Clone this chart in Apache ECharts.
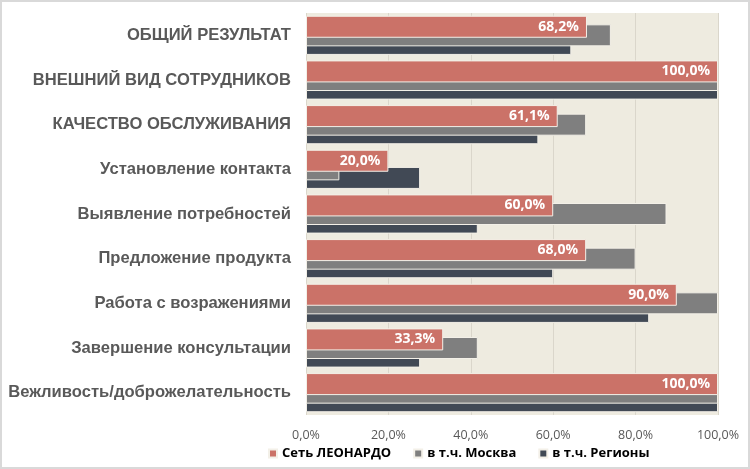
<!DOCTYPE html>
<html>
<head>
<meta charset="utf-8">
<script src="https://cdn.jsdelivr.net/npm/echarts@6/dist/echarts.min.js"></script>
<style>
html,body{margin:0;padding:0;background:#fff;}
#c{width:750px;height:469px;box-sizing:border-box;border:2px solid #d9d9d9;}
</style>
</head>
<body>
<div id="c"></div>
<script>
const categories = [
  'ОБЩИЙ РЕЗУЛЬТАТ',
  'ВНЕШНИЙ ВИД СОТРУДНИКОВ',
  'КАЧЕСТВО ОБСЛУЖИВАНИЯ',
  'Установление контакта',
  'Выявление потребностей',
  'Предложение продукта',
  'Работа с возражениями',
  'Завершение консультации',
  'Вежливость/доброжелательность'
];
const seriesNames = ['Сеть ЛЕОНАРДО', 'в т.ч. Москва', 'в т.ч. Регионы'];
const network = [68.2, 100, 61.1, 20.0, 60.0, 68.0, 90.0, 33.3, 100];
const moscow  = [74.0, 100, 68.0, 8.1, 87.5, 80.0, 100, 41.7, 100];
const regions = [64.4, 100, 56.4, 27.7, 41.7, 60.0, 83.3, 27.7, 100];
const xTicks = [0, 20, 40, 60, 80, 100];

const chart = echarts.init(document.getElementById('c'), null, {renderer:'canvas'});
const fmt = v => v.toFixed(1).replace('.', ',') + '%';

chart.setOption({
  animation:false,
  backgroundColor:'#fff',
  grid:{left:304, right:30, top:11, bottom:52, show:true, backgroundColor:'#EEEBE0', borderWidth:0,
        containLabel:false, outerBoundsMode:'none'},
  legend:{
    top:445, left:266, padding:0, itemWidth:8, itemHeight:8, itemGap:22,
    icon:'rect',
    textStyle:{fontFamily:'Open Sans, Liberation Sans, sans-serif', fontWeight:'bold', fontSize:13, color:'#000'},
    data:seriesNames
  },
  xAxis:{
    type:'value', min:xTicks[0], max:xTicks[xTicks.length-1], interval:xTicks[1]-xTicks[0],
    axisLine:{show:false}, axisTick:{show:false},
    splitLine:{lineStyle:{color:'#DAD6CB', width:1}},
    axisLabel:{formatter:v=>fmt(v), color:'#595959', fontSize:12.5, margin:14,
      fontFamily:'Open Sans, Liberation Sans, sans-serif'}
  },
  yAxis:{
    type:'category', data:categories, inverse:true,
    axisLine:{show:false}, axisTick:{show:false},
    axisLabel:{color:'#595959', fontSize:16.6, fontWeight:'bold', margin:15,
      fontFamily:'Liberation Sans, Arial, sans-serif'}
  },
  series:[
    {name:seriesNames[0], type:'bar', data:network, barWidth:22, barGap:'-61%', z:4,
     itemStyle:{color:'#CB7268', borderColor:'#F3F0E8', borderWidth:1},
     label:{show:true, position:'insideRight', formatter:p=>fmt(p.value), color:'#fff',
       fontWeight:'bold', fontSize:14, fontFamily:'Open Sans, Liberation Sans, sans-serif', distance:8}},
    {name:seriesNames[1], type:'bar', data:moscow, barWidth:22, barGap:'-61%', z:3,
     itemStyle:{color:'#7F7F7F', borderColor:'#F3F0E8', borderWidth:1}},
    {name:seriesNames[2], type:'bar', data:regions, barWidth:22, barGap:'-61%', z:2,
     itemStyle:{color:'#414955', borderColor:'#F3F0E8', borderWidth:1}}
  ]
});
</script>
</body>
</html>
